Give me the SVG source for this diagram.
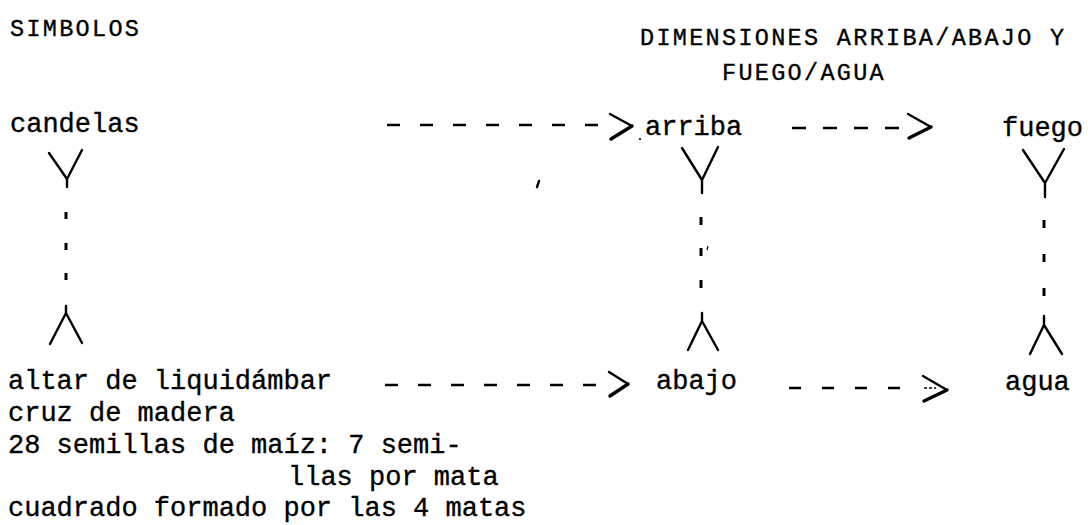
<svg xmlns="http://www.w3.org/2000/svg" width="1088" height="525" viewBox="0 0 1088 525">
<style>
.t{font-family:"Liberation Mono","DejaVu Sans Mono",monospace;font-size:27px;fill:#000;stroke:#000;stroke-width:0.35}
.cap{font-size:23.5px;letter-spacing:2.3px}
.dash{stroke:#000;stroke-width:2.6;fill:none;stroke-dasharray:13 20}
.head{stroke:#000;fill:none;stroke-width:2.4;stroke-linecap:round;stroke-linejoin:round}
.heavy{stroke:#000;fill:none;stroke-width:3.4;stroke-linecap:round}
.dot{stroke:#000;fill:none;stroke-width:3;stroke-linecap:butt}
</style>
<rect width="1088" height="525" fill="#fff"/>
<g id="titulo-simbolos"><text class="t cap" x="10" y="36">SIMBOLOS</text></g>
<g id="titulo-dimensiones">
<text class="t cap" x="640" y="45">DIMENSIONES ARRIBA/ABAJO Y</text>
<text class="t cap" x="722" y="80">FUEGO/AGUA</text>
</g>
<g id="candelas"><text class="t" x="10" y="132">candelas</text></g>
<g id="arriba"><text class="t" x="645" y="135">arriba</text></g>
<g id="fuego"><text class="t" x="1002" y="136">fuego</text></g>
<g id="altar">
<text class="t" x="8" y="389">altar de liquidámbar</text>
<text class="t" x="8" y="421">cruz de madera</text>
<text class="t" x="8" y="453">28 semillas de maíz: 7 semi-</text>
<text class="t" x="288" y="485">llas por mata</text>
<text class="t" x="8" y="516">cuadrado formado por las 4 matas</text>
</g>
<g id="abajo"><text class="t" x="656" y="389">abajo</text></g>
<g id="agua"><text class="t" x="1005" y="390">agua</text></g>
<g id="conectores">
<!-- candelas -> arriba -->
<line class="dash" x1="387" y1="125" x2="598" y2="125"/>
<path class="head" d="M610,114 L632,126"/>
<path class="heavy" d="M632,126 L611,139"/>
<!-- arriba -> fuego -->
<line class="dash" x1="792" y1="128" x2="906" y2="128" style="stroke-dasharray:14 17"/>
<path class="head" d="M908,114 L931,127"/>
<path class="heavy" d="M931,127 L909,138"/>
<!-- altar -> abajo -->
<line class="dash" x1="385" y1="385" x2="596" y2="385"/>
<path class="head" d="M609,372 L628,384"/>
<path class="heavy" d="M628,384 L610,396"/>
<!-- abajo -> agua -->
<line class="dash" x1="789" y1="388" x2="902" y2="388" style="stroke-dasharray:12 21"/>
<path class="head" d="M923,376 L947,390"/>
<path class="heavy" d="M947,390 L924,401"/>
<line x1="924" y1="388" x2="936" y2="388" stroke="#000" stroke-width="1.6" stroke-dasharray="3 2"/>
<!-- candelas <-> altar -->
<path class="head" d="M49,153 L67,179 M82,150 L67,179 L67,187"/>
<path class="dot" d="M66,212 V219 M66,243 V250 M66,273 V280"/>
<path class="head" d="M66,306 V313 L50,344 M66,313 L82,343"/>
<!-- arriba <-> abajo -->
<path class="head" d="M682,148 L702,180 M718,147 L702,180 V193"/>
<path class="dot" d="M701,217 V225 M701,248 V256 M701,280 V288"/>
<path class="head" d="M702,313 V321 L688,350 M702,321 L718,350"/>
<!-- fuego <-> agua -->
<path class="head" d="M1023,150 L1045,183 M1064,149 L1045,183 V197"/>
<path class="dot" d="M1044,220 V228 M1044,254 V262 M1044,288 V296"/>
<path class="head" d="M1044,316 V325 L1030,354 M1044,325 L1062,354"/>
</g>
<g id="marcas">
<circle cx="640" cy="139" r="1.1" fill="#000"/>
<path d="M539,181 L537,187" stroke="#000" stroke-width="2.4" stroke-linecap="round"/>
<path d="M708,246 L707,250" stroke="#000" stroke-width="1.2"/>
</g>
</svg>
